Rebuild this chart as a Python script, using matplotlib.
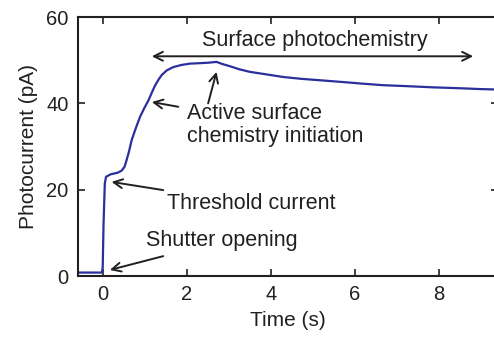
import matplotlib
matplotlib.use('Agg')
import matplotlib.pyplot as plt

# Photocurrent trace
time_s = [-0.6, -0.3, -0.02, 0.0, 0.02, 0.05, 0.08, 0.2, 0.35, 0.45, 0.52, 0.57,
          0.63, 0.69, 0.79, 0.89, 0.99, 1.09, 1.17, 1.25, 1.33, 1.40, 1.52,
          1.68, 1.88, 2.08, 2.3, 2.5, 2.71, 2.85, 3.03, 3.25, 3.5, 3.9, 4.3,
          4.7, 5.1, 5.5, 5.89, 6.13, 6.68, 7.2, 7.87, 8.5, 9.0, 9.4]
current_pa = [0.8, 0.8, 0.8, 2.0, 12.0, 21.5, 23.0, 23.6, 23.9, 24.4, 25.3, 26.9,
              29.0, 31.5, 34.3, 36.9, 38.9, 40.7, 42.5, 44.2, 45.5, 46.5, 47.6,
              48.4, 48.9, 49.2, 49.3, 49.4, 49.6, 49.1, 48.6, 47.9, 47.3, 46.7, 46.1,
              45.7, 45.4, 45.1, 44.8, 44.6, 44.2, 44.0, 43.7, 43.5, 43.3, 43.2]

xticks = [0, 2, 4, 6, 8]
yticks = [0, 20, 40, 60]

ink = '#231f20'
plt.rcParams['font.family'] = ['Liberation Sans', 'DejaVu Sans']
label_fs = 15
note_fs = 15.5

fig = plt.figure(figsize=(4.94, 3.38), dpi=100)
ax = fig.add_axes([0.1569, 0.1834, 0.8502, 0.7663])

ax.plot(time_s, current_pa, color='#2a2f9c', lw=1.6)

ax.set_xlim(-0.6, 9.4)
ax.set_ylim(0, 60)
ax.set_xticks(xticks)
ax.set_yticks(yticks)
ax.tick_params(direction='in', length=5, width=1.2, top=True, right=True,
               colors=ink, labelsize=14.5, pad=6.5)
for s in ax.spines.values():
    s.set_linewidth(1.5)
    s.set_color(ink)

ax.set_xlabel('Time (s)', color=ink, fontsize=label_fs, labelpad=5)
ax.set_ylabel('Photocurrent (pA)', color=ink, fontsize=label_fs, labelpad=6)

arrow = dict(arrowstyle='->', color=ink, lw=1.4, mutation_scale=16,
             shrinkA=0, shrinkB=0)

# span of the surface photochemistry regime
ax.annotate('', xy=(1.17, 50.9), xytext=(8.82, 50.9),
            arrowprops=dict(arrow, arrowstyle='<->'))
ax.text(5.06, 54.6, 'Surface photochemistry', ha='center', va='center',
        color=ink, fontsize=note_fs)

ax.text(2.0, 35.0, 'Active surface\nchemistry initiation', ha='left', va='center',
        color=ink, fontsize=note_fs, linespacing=1.1)
ax.annotate('', xy=(1.17, 40.3), xytext=(1.8, 39.2), arrowprops=arrow)
ax.annotate('', xy=(2.71, 47.3), xytext=(2.51, 40.0), arrowprops=arrow)

ax.text(1.53, 16.8, 'Threshold current', ha='left', va='center', color=ink,
        fontsize=note_fs)
ax.annotate('', xy=(0.21, 21.8), xytext=(1.44, 19.9), arrowprops=arrow)

ax.text(1.03, 8.3, 'Shutter opening', ha='left', va='center', color=ink,
        fontsize=note_fs)
ax.annotate('', xy=(0.17, 1.4), xytext=(1.44, 4.6), arrowprops=arrow)

fig.savefig('out.png', dpi=100)
